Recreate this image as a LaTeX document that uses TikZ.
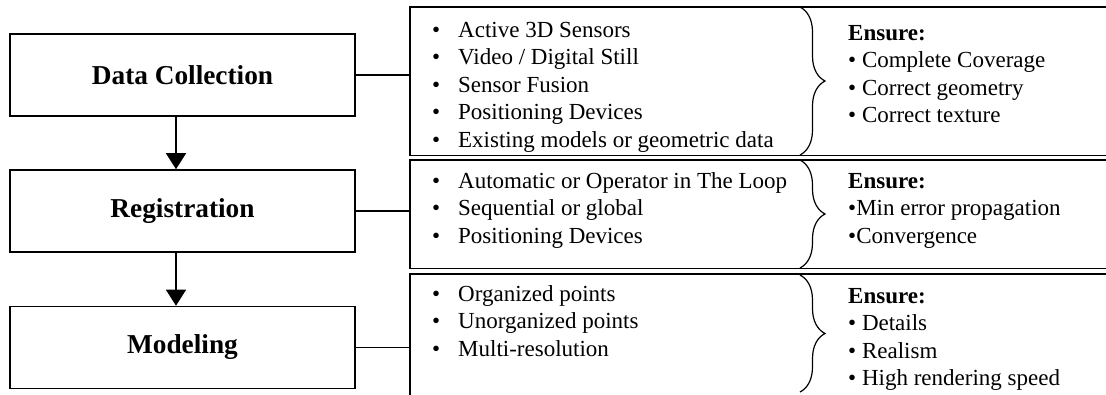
\documentclass[tikz,border=0pt]{standalone}
\usepackage{fontspec}
\setmainfont{Liberation Serif}
\usetikzlibrary{arrows.meta,decorations.pathreplacing}
\newcommand{\bl}[1]{\makebox[26pt][l]{\textbullet}#1}
\begin{document}
\begin{tikzpicture}[x=1pt,y=-1pt,
  stage/.style={draw, line width=1.6pt, minimum width=345pt, minimum height=82pt,
    inner sep=0pt, font=\fontsize{27.3}{32}\selectfont\bfseries},
  panel/.style={inner sep=0pt, minimum width=700pt, anchor=north west},
  edge/.style={line width=1.6pt},
  link/.style={line width=1.4pt},
  arr/.style={line width=1.4pt, -{Triangle[width=20pt,length=16pt]}},
  lst/.style={anchor=base west, inner sep=0pt, font=\fontsize{23}{27.5}\selectfont},
  brc/.style={line width=1.2pt, decorate, decoration={brace, amplitude=25pt}}
]
\useasboundingbox (0,0) rectangle (1106,394);
\fill[white] (0,0) rectangle (1106,394);

% left stages
\node[stage] (dc)  at (182.5,75)  {Data Collection};
\node[stage] (reg) at (182.5,211) {Registration};
\node[stage] (mod) at (182.5,347.5) {Modeling};

\draw[arr] ([xshift=-6.5pt]dc.south) -- ([xshift=-6.5pt]reg.north);
\draw[arr] ([xshift=-6.5pt]reg.south) -- ([xshift=-6.5pt]mod.north);

% panels
\node[panel, minimum height=148pt] (p1) at (410,7) {};
\node[panel, minimum height=108pt] (p2) at (410,160) {};
\node[panel, minimum height=130pt] (p3) at (410,274) {};
\draw[edge] (p1.north east) -- (p1.north west) -- (p1.south west) -- (p1.south east);
\draw[edge] (p2.north east) -- (p2.north west) -- (p2.south west) -- (p2.south east);
\draw[edge] (p3.north east) -- (p3.north west) -- (p3.south west);

\draw[link] (dc.east) -- (dc.east -| p1.west);
\draw[link] (reg.east) -- (reg.east -| p2.west);
\draw[link] (mod.east) -- (mod.east -| p3.west);

% braces
\coordinate (b1a) at (800,7);   \coordinate (b1b) at (800,155);
\coordinate (b2a) at (800,160); \coordinate (b2b) at (800,268);
\coordinate (b3a) at (800,275); \coordinate (b3b) at (800,392);
\draw[brc] (b1a) -- (b1b);
\draw[brc] (b2a) -- (b2b);
\draw[brc] (b3a) -- (b3b);

% lists
\node[lst] (l1) at (432,37) {\begin{tabular}[t]{@{}l@{}}
\bl{Active 3D Sensors}\\
\bl{Video / Digital Still}\\
\bl{Sensor Fusion}\\
\bl{Positioning Devices}\\
\bl{Existing models or geometric data}
\end{tabular}};
\node[lst] (e1) at (848,40) {\begin{tabular}[t]{@{}l@{}}
\textbf{Ensure:}\\
\textbullet\ Complete Coverage\\
\textbullet\ Correct geometry\\
\textbullet\ Correct texture
\end{tabular}};

\node[lst] (l2) at (432,188) {\begin{tabular}[t]{@{}l@{}}
\bl{Automatic or Operator in The Loop}\\
\bl{Sequential or global}\\
\bl{Positioning Devices}
\end{tabular}};
\node[lst] (e2) at (848,188) {\begin{tabular}[t]{@{}l@{}}
\textbf{Ensure:}\\
\textbullet Min error propagation\\
\textbullet Convergence
\end{tabular}};

\node[lst] (l3) at (432,301) {\begin{tabular}[t]{@{}l@{}}
\bl{Organized points}\\
\bl{Unorganized points}\\
\bl{Multi-resolution}
\end{tabular}};
\node[lst] (e3) at (848,303) {\begin{tabular}[t]{@{}l@{}}
\textbf{Ensure:}\\
\textbullet\ Details\\
\textbullet\ Realism\\
\textbullet\ High rendering speed
\end{tabular}};
\end{tikzpicture}
\end{document}
